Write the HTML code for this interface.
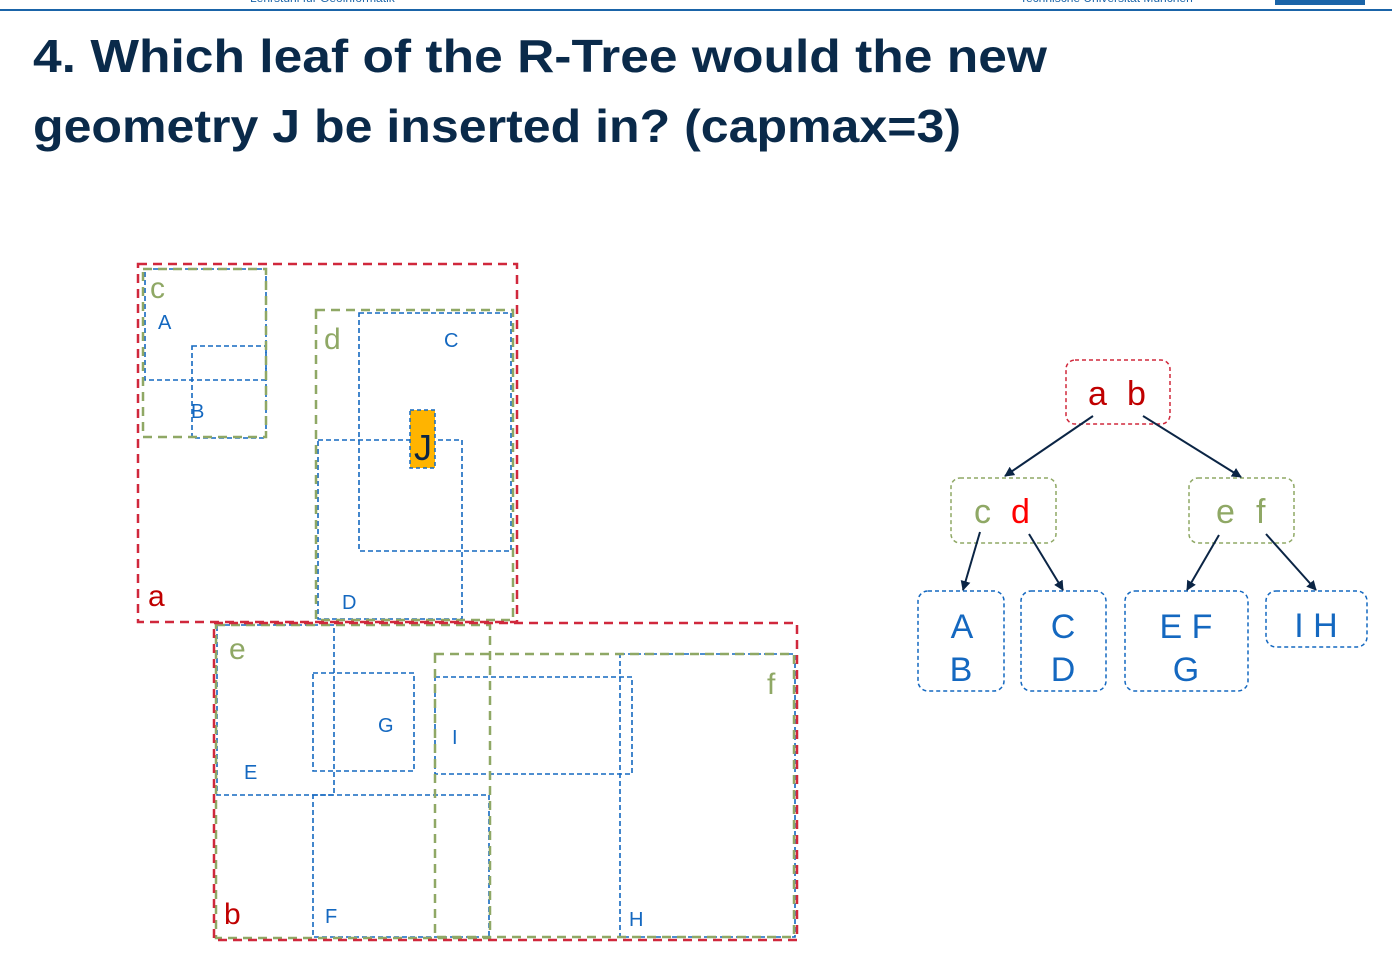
<!DOCTYPE html>
<html><head><meta charset="utf-8"><style>
html,body{margin:0;padding:0;background:#fff;}
svg{display:block;font-family:"Liberation Sans",sans-serif;}
.r{fill:none;stroke:#d0283c;stroke-width:2.5;stroke-dasharray:9 6;}
.g{fill:none;stroke:#8fa865;stroke-width:2.5;stroke-dasharray:9 6;}
.b{fill:none;stroke:#1468c0;stroke-width:1.6;stroke-dasharray:5 3;}
.bl{fill:#1468c0;font-size:20px;}
.gl{fill:#8fa865;font-size:30px;}
.rl{fill:#c00000;font-size:30px;}
.tn{fill:#1468c0;font-size:34px;text-anchor:middle;}
.ar{stroke:#0b2545;stroke-width:2;marker-end:url(#ah);}
</style></head><body>
<svg width="1392" height="969" viewBox="0 0 1392 969">
<defs><marker id="ah" markerWidth="10" markerHeight="10" refX="9" refY="5" orient="auto" markerUnits="userSpaceOnUse"><path d="M0,0 L10,5 L0,10 z" fill="#0b2545"/></marker></defs>
<text x="250" y="2" font-size="12" fill="#1a64a8">Lehrstuhl für Geoinformatik</text>
<text x="1020" y="2" font-size="12" fill="#1a64a8">Technische Universität München</text>
<rect x="1275" y="0" width="90" height="5" fill="#1a64a8"/>
<rect x="0" y="9" width="1392" height="2" fill="#1a64a8"/>
<text x="33" y="72" font-size="46" font-weight="bold" fill="#0a2a4a" textLength="1014" lengthAdjust="spacingAndGlyphs">4. Which leaf of the R-Tree would the new</text>
<text x="33" y="142" font-size="46" font-weight="bold" fill="#0a2a4a" textLength="928" lengthAdjust="spacingAndGlyphs">geometry J be inserted in? (capmax=3)</text>

<g>
<rect class="b" x="145" y="269" width="121" height="111"/>
<rect class="b" x="192" y="346" width="74" height="92"/>
<rect class="g" x="143" y="269" width="123" height="168"/>
<rect class="b" x="359" y="313" width="152" height="238"/>
<rect class="b" x="318" y="440" width="144" height="179"/>
<rect class="g" x="316" y="310" width="197" height="310"/>
<rect x="410" y="410" width="25" height="58" fill="#ffb400" stroke="#1468c0" stroke-width="1.5" stroke-dasharray="4 3"/>
<rect class="r" x="138" y="264" width="379" height="358"/>
<rect class="b" x="217" y="625" width="117" height="170"/>
<rect class="b" x="313" y="673" width="101" height="98"/>
<rect class="b" x="313" y="795" width="176" height="142"/>
<rect class="b" x="435" y="677" width="197" height="97"/>
<rect class="b" x="620" y="654" width="175" height="283"/>
<rect class="g" x="216" y="625" width="274" height="313"/>
<rect class="g" x="435" y="654" width="359" height="283"/>
<rect class="r" x="214" y="623" width="583" height="317"/>
<text class="gl" x="150" y="298">c</text>
<text class="bl" x="158" y="329">A</text>
<text class="bl" x="191" y="418">B</text>
<text class="gl" x="324" y="349">d</text>
<text class="bl" x="444" y="347">C</text>
<text x="423" y="460" font-size="36" text-anchor="middle" fill="#0b2545">J</text>
<text class="bl" x="342" y="609">D</text>
<text class="rl" x="148" y="606">a</text>
<text class="gl" x="229" y="659">e</text>
<text class="bl" x="378" y="732">G</text>
<text class="bl" x="452" y="744">I</text>
<text class="gl" x="767" y="694">f</text>
<text class="bl" x="244" y="779">E</text>
<text class="bl" x="325" y="923">F</text>
<text class="bl" x="629" y="926">H</text>
<text class="rl" x="224" y="924">b</text>
</g>

<g>
<rect x="1066" y="360" width="104" height="64" rx="9" fill="none" stroke="#d0283c" stroke-width="1.5" stroke-dasharray="4 3"/>
<text x="1088" y="405" font-size="34" fill="#c00000">a</text>
<text x="1127" y="405" font-size="34" fill="#c00000">b</text>
<rect x="951" y="478" width="105" height="65" rx="9" fill="none" stroke="#8fa865" stroke-width="1.5" stroke-dasharray="4 3"/>
<text x="974" y="523" font-size="34" fill="#8fa865">c</text>
<text x="1011" y="523" font-size="34" fill="#ff0000">d</text>
<rect x="1189" y="478" width="105" height="65" rx="9" fill="none" stroke="#8fa865" stroke-width="1.5" stroke-dasharray="4 3"/>
<text x="1216" y="523" font-size="34" fill="#8fa865">e</text>
<text x="1256" y="523" font-size="34" fill="#8fa865">f</text>
<rect x="918" y="591" width="86" height="100" rx="10" fill="none" stroke="#1468c0" stroke-width="1.5" stroke-dasharray="4 3"/>
<text class="tn" x="962" y="638">A</text>
<text class="tn" x="961" y="681">B</text>
<rect x="1021" y="591" width="85" height="100" rx="10" fill="none" stroke="#1468c0" stroke-width="1.5" stroke-dasharray="4 3"/>
<text class="tn" x="1063" y="638">C</text>
<text class="tn" x="1063" y="681">D</text>
<rect x="1125" y="591" width="123" height="100" rx="10" fill="none" stroke="#1468c0" stroke-width="1.5" stroke-dasharray="4 3"/>
<text class="tn" x="1186" y="638">E F</text>
<text class="tn" x="1186" y="681">G</text>
<rect x="1266" y="591" width="101" height="56" rx="10" fill="none" stroke="#1468c0" stroke-width="1.5" stroke-dasharray="4 3"/>
<text class="tn" x="1316" y="637">I H</text>
<line class="ar" x1="1093" y1="416" x2="1005" y2="476"/>
<line class="ar" x1="1143" y1="416" x2="1241" y2="477"/>
<line class="ar" x1="980" y1="532" x2="963" y2="590"/>
<line class="ar" x1="1029" y1="534" x2="1063" y2="590"/>
<line class="ar" x1="1219" y1="535" x2="1187" y2="590"/>
<line class="ar" x1="1266" y1="534" x2="1316" y2="590"/>
</g>
</svg>
</body></html>
